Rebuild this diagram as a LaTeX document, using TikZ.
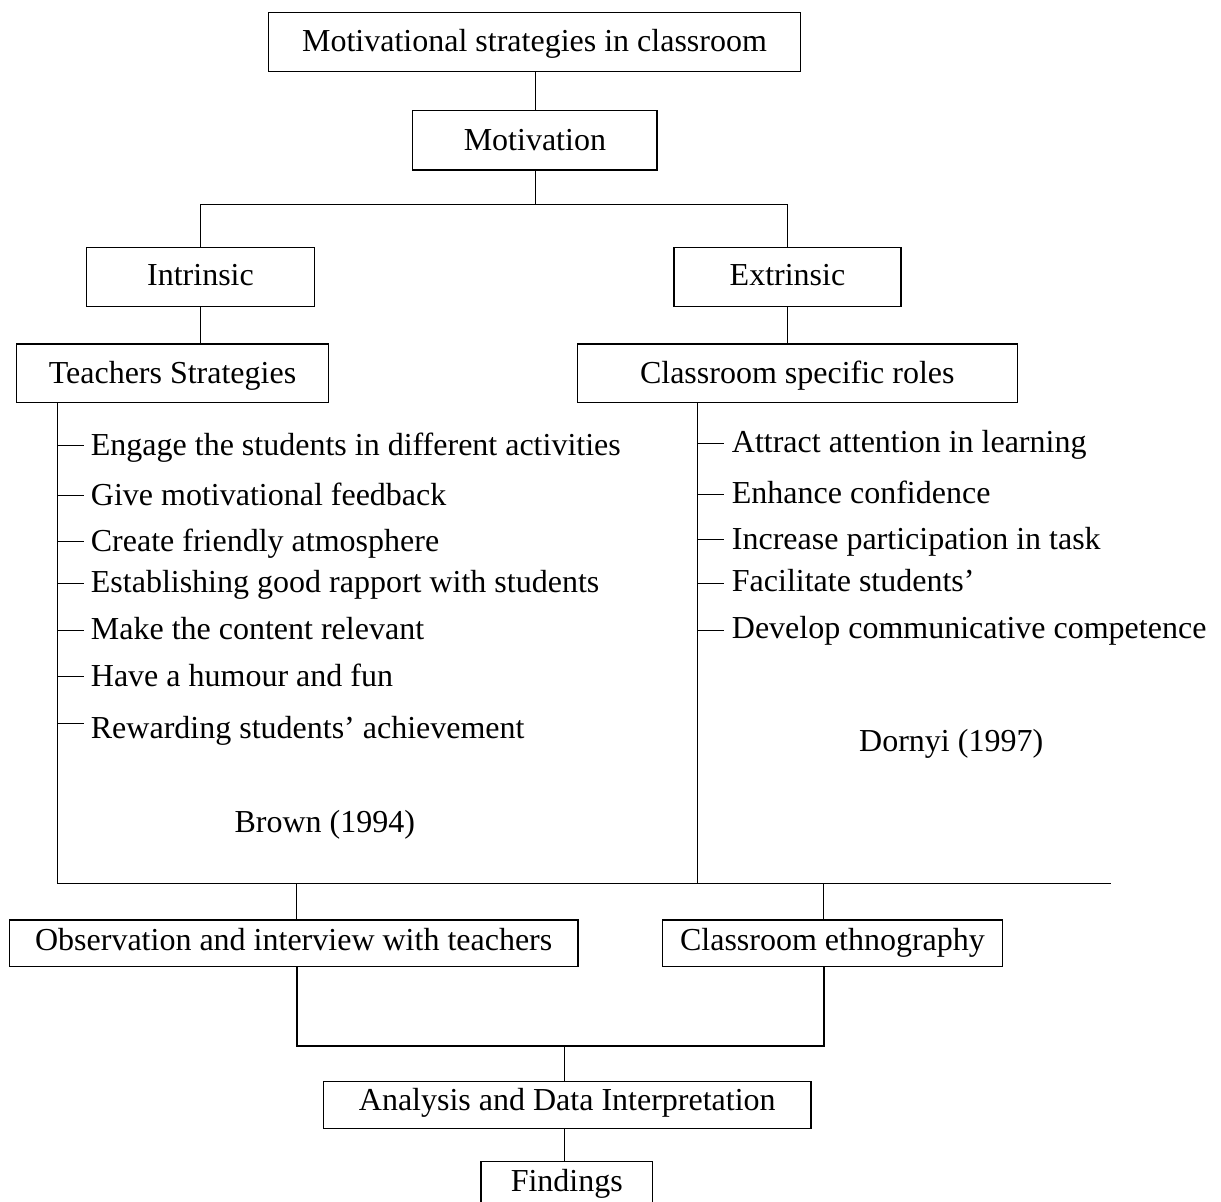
\documentclass[tikz,border=0pt]{standalone}
\usepackage{fontspec}
\setmainfont{Liberation Serif}
\tikzset{
  box/.style={draw, line width=1.4pt, inner sep=0pt, text height=21pt,
    font=\fontsize{32}{38}\selectfont},
  item/.style={anchor=base west, inner sep=0pt, font=\fontsize{32}{38}\selectfont},
  ln/.style={line width=1.1pt},
  thickln/.style={line width=2pt}
}
\begin{document}
\begin{tikzpicture}[x=1pt, y=-1pt]
\useasboundingbox (0,0) rectangle (1221,1202);
% boxes
\node[box, minimum width=531.7pt, minimum height=59pt, text depth=2pt] (top) at (534.5,42.2) {Motivational strategies in classroom};
\node[box, minimum width=244.3pt, minimum height=59.3pt, text depth=1.6pt] (motiv) at (534.9,140.3) {Motivation};
\node[box, minimum width=227.8pt, minimum height=59pt, text depth=5.4pt] (intr) at (200.5,277.2) {Intrinsic};
\node[box, minimum width=227pt, minimum height=59pt, text depth=5.4pt] (extr) at (787.5,277.2) {Extrinsic};
\node[box, minimum width=311.6pt, minimum height=58.7pt, text depth=1pt] (teach) at (172.5,373.3) {Teachers Strategies};
\node[box, minimum width=440pt, minimum height=58.7pt, text depth=1pt] (csr) at (797.3,373.3) {Classroom specific roles};
\node[box, minimum width=568.7pt, minimum height=46.7pt, text depth=7.6pt] (obs) at (293.7,943.3) {Observation and interview with teachers};
\node[box, minimum width=339.5pt, minimum height=46.7pt, text depth=7.6pt] (eth) at (832.5,943.3) {Classroom ethnography};
\node[box, minimum width=487.3pt, minimum height=46.6pt, text depth=9.6pt] (ana) at (567.3,1105) {Analysis and Data Interpretation};
\node[box, minimum width=171.7pt, minimum height=46.7pt, text depth=7.6pt] (fin) at (566.8,1185) {Findings};

% list items left
\node[item] (l1) at (90.7,455) {Engage the students in different activities};
\node[item] (l2) at (90.7,505) {Give motivational feedback};
\node[item] (l3) at (90.7,551) {Create friendly atmosphere};
\node[item] (l4) at (90.7,592.3) {Establishing good rapport with students};
\node[item] (l5) at (90.7,639) {Make the content relevant};
\node[item] (l6) at (90.7,686.7) {Have a humour and fun};
\node[item] (l7) at (90.7,738.3) {Rewarding students’ achievement};
\node[item] (brown) at (234.3,832.7) {Brown (1994)};

% list items right
\node[item] (r1) at (731.7,452.3) {Attract attention in learning};
\node[item] (r2) at (731.7,503.3) {Enhance confidence};
\node[item] (r3) at (731.7,549.3) {Increase participation in task};
\node[item] (r4) at (731.7,591.7) {Facilitate students’};
\node[item] (r5) at (731.7,638.3) {Develop communicative competence};
\node[item] (dornyi) at (859,751.7) {Dornyi (1997)};

% coordinates
\coordinate (j1) at (535.5,204.5);
\coordinate (lrail) at (57.5,883.5);
\coordinate (rrail) at (697.5,883.5);
\coordinate (rend) at (1111,883.5);
\coordinate (bo) at (296.5,883.5);
\coordinate (be) at (823.5,883.5);
\coordinate (jl) at (296.5,1046);
\coordinate (jr) at (823.5,1046);
\coordinate (ja) at (564.5,1046);

% connectors top
\draw[ln] (j1 |- top.south) -- (j1 |- motiv.north);
\draw[ln] (j1 |- motiv.south) -- (j1);
\draw[ln] (intr.north) |- (j1) -| (extr.north);
\draw[ln] (intr.south) -- (intr.south |- teach.north);
\draw[ln] (extr.south) -- (extr.south |- csr.north);

% rails
\draw[ln] (lrail |- teach.south) -- (lrail) -- (rend);
\draw[ln] (rrail |- csr.south) -- (rrail);

% ticks left
\foreach \y in {445.5,495.5,541.5,583.5,630.5,676.5,723.5}
  \draw[ln] (57.5,\y) -- (83.5,\y);
% ticks right
\foreach \y in {443.5,494.5,539.5,583.5,630.5}
  \draw[ln] (697.5,\y) -- (723.5,\y);

% bottom connectors
\draw[ln] (bo) -- (bo |- obs.north);
\draw[ln] (be) -- (be |- eth.north);
\draw[thickln] (jl |- obs.south) -- (jl) -- (jr) -- (jr |- eth.south);
\draw[ln] (ja) -- (ja |- ana.north);
\draw[ln] (ja |- ana.south) -- (ja |- fin.north);
\end{tikzpicture}
\end{document}
